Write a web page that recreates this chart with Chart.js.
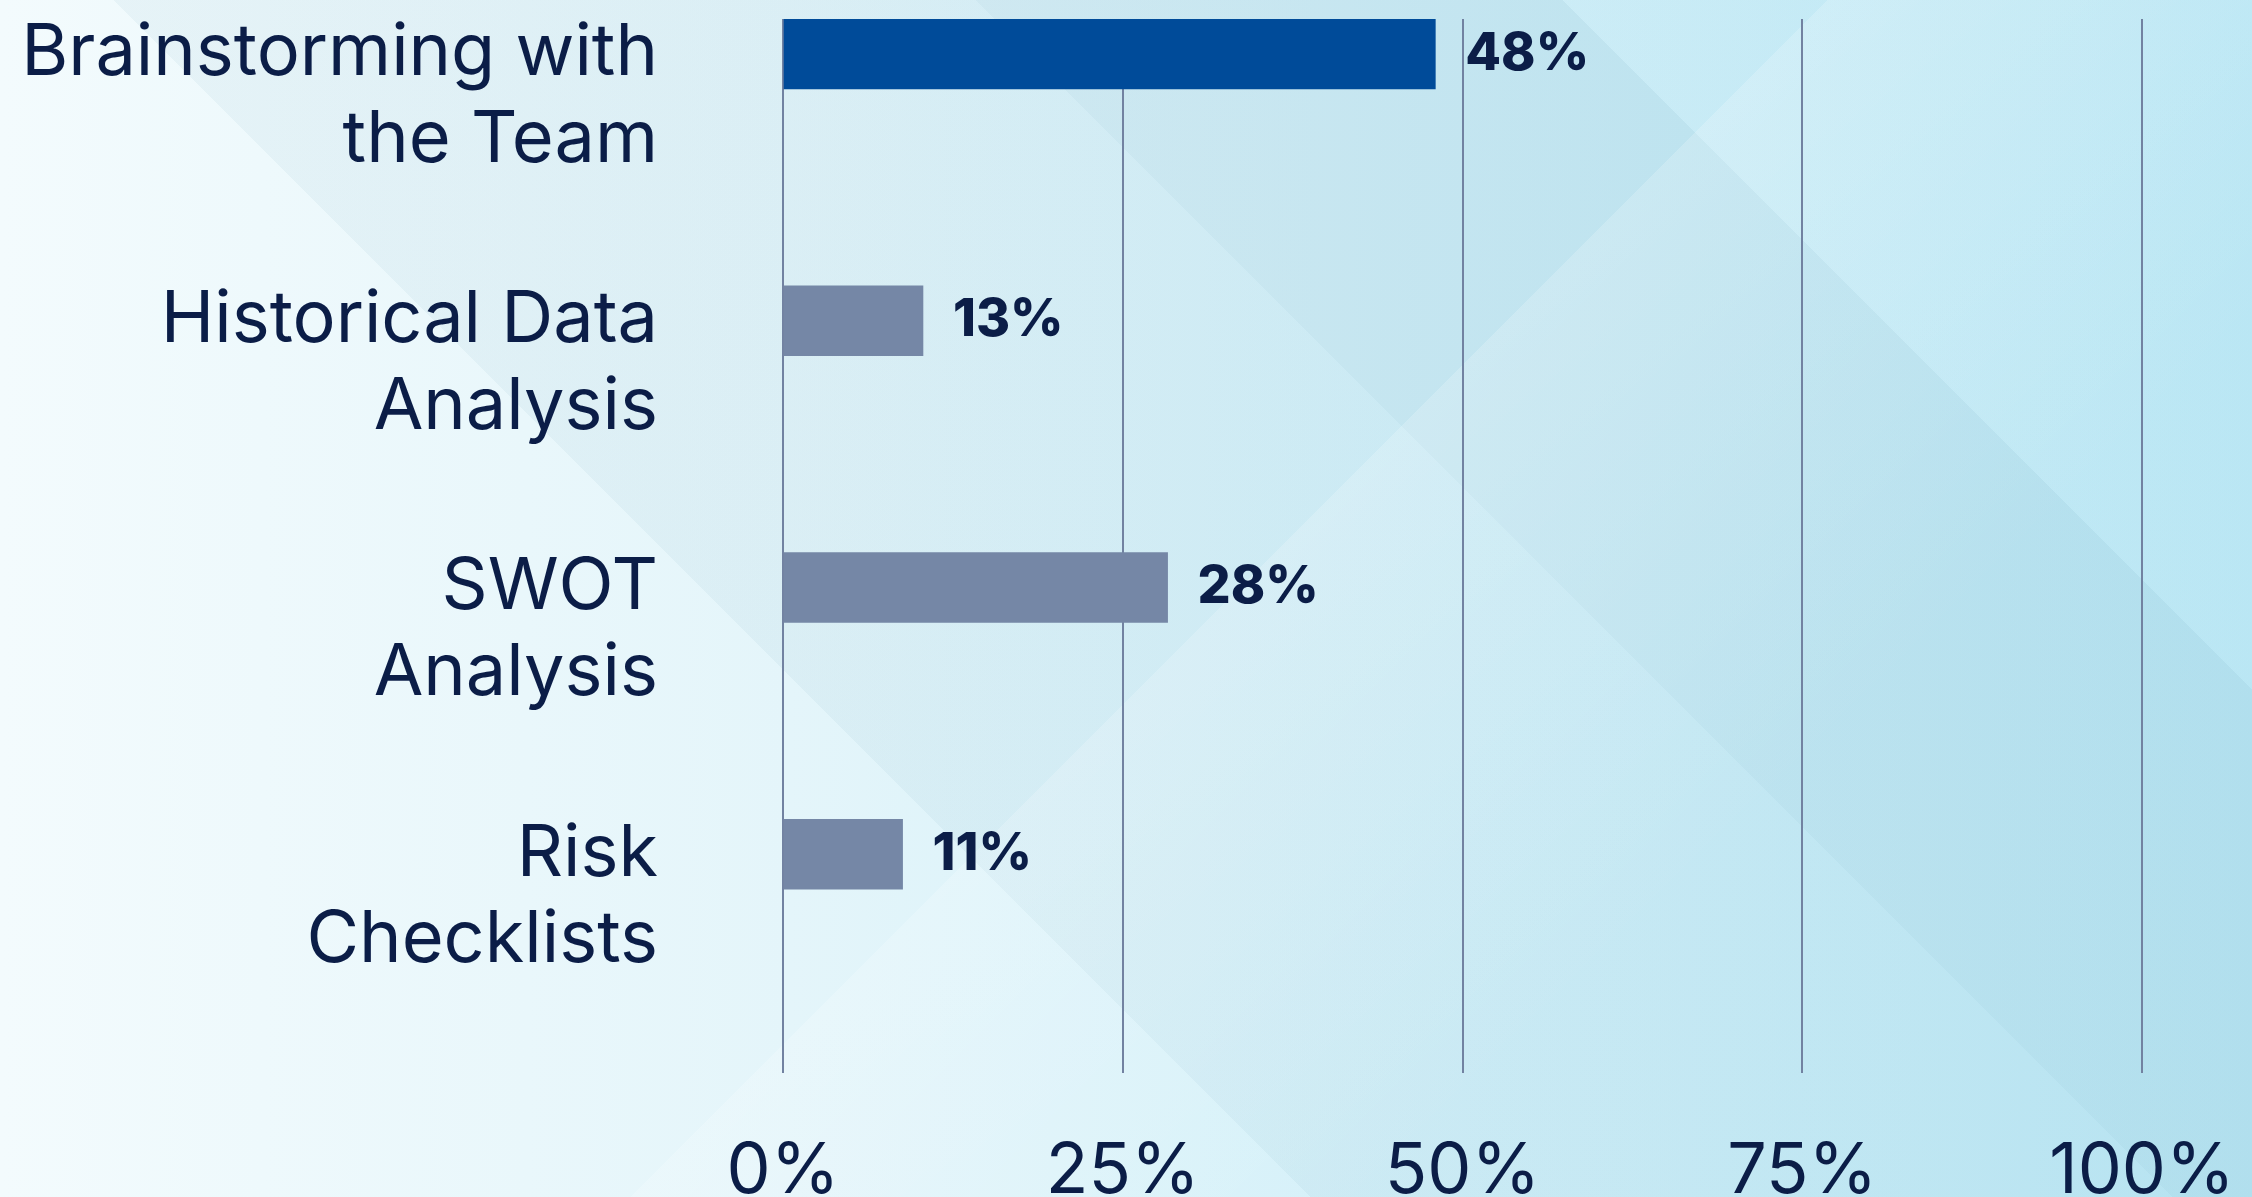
<!DOCTYPE html>
<html>
<head>
<meta charset="utf-8">
<script src="https://cdn.jsdelivr.net/npm/chart.js@4.4.0/dist/chart.umd.min.js"></script>
<style>
  html, body { margin: 0; padding: 0; }
  body {
    width: 2252px;
    height: 1197px;
    overflow: hidden;
    background:
      linear-gradient(135deg, rgba(255,255,255,0) 0%, rgba(255,255,255,0) 53%, rgba(255,255,255,0.18) 53%, rgba(255,255,255,0) 75%),
      linear-gradient(45deg, rgba(90,150,175,0) 0%, rgba(90,150,175,0) 38%, rgba(90,150,175,0.07) 38%, rgba(90,150,175,0.07) 63%, rgba(90,150,175,0.12) 63%, rgba(90,150,175,0.12) 80%, rgba(90,150,175,0.03) 80%),
      linear-gradient(90deg, #f3fbfd 0%, #e4f5fa 35%, #d2f0f9 65%, #bde9f6 100%);
  }
  #wrap { position: relative; width: 2252px; height: 1197px; }
</style>
</head>
<body>
<div id="wrap"><canvas id="chart"></canvas></div>
<script>
// categories (one entry per line of the label)
const categories = [
    ['Brainstorming with', 'the Team'],
    ['Historical Data', 'Analysis'],
    ['SWOT', 'Analysis'],
    ['Risk', 'Checklists']
];
// bar lengths as drawn in the picture
const barValues = [48, 10.3, 28.3, 8.8];
// printed value labels
const valueLabels = ['48%', '13%', '28%', '11%'];
const xTicks = [0, 25, 50, 75, 100];
const barColors = ['#004b99', '#7587a6', '#7587a6', '#7587a6'];

const ink = '#0b1d47';

// draw the value next to each bar
const valueLabelPlugin = {
    id: 'valueLabels',
    afterDatasetsDraw(chart) {
        const ctx = chart.ctx;
        const meta = chart.getDatasetMeta(0);
        ctx.save();
        ctx.font = '800 52px Inter';
        ctx.fillStyle = ink;
        ctx.textAlign = 'left';
        ctx.textBaseline = 'middle';
        meta.data.forEach((bar, i) => {
            ctx.fillText(valueLabels[i], bar.x + 30, bar.y);
        });
        ctx.restore();
    }
};

new Chart(document.getElementById('chart'), {
    type: 'bar',
    data: {
        datasets: [{
            data: barValues.map((v, i) => ({ x: v, y: i })),
            backgroundColor: barColors,
            barThickness: 70,
            borderWidth: 0
        }]
    },
    options: {
        indexAxis: 'y',
        responsive: true,
        maintainAspectRatio: false,
        animation: false,
        layout: { padding: { top: 19, right: 110, left: 0, bottom: 0 } },
        plugins: { legend: { display: false }, tooltip: { enabled: false } },
        scales: {
            x: {
                type: 'linear',
                position: 'bottom',
                min: 0,
                max: 100,
                afterBuildTicks: (scale) => { scale.ticks = xTicks.map(v => ({ value: v })); },
                afterFit: (scale) => { scale.height = 124; scale.paddingLeft = 0; scale.paddingRight = 0; },
                grid: { color: '#7282a1', lineWidth: 2, drawTicks: false },
                border: { display: false },
                ticks: {
                    color: ink,
                    font: { family: 'Inter', size: 70 },
                    padding: 57,
                    callback: (v) => v + '%'
                }
            },
            y: {
                type: 'linear',
                reverse: true,
                offset: false,
                min: -0.131,
                max: 3.82,
                afterBuildTicks: (scale) => { scale.ticks = categories.map((_, i) => ({ value: i })); },
                afterFit: (scale) => { scale.width = 783; scale.paddingTop = 0; scale.paddingBottom = 0; },
                grid: { display: false },
                border: { display: false },
                ticks: {
                    color: ink,
                    font: { family: 'Inter', size: 72, lineHeight: 1.2 },
                    padding: 117,
                    labelOffset: 43,
                    callback: (v) => categories[v]
                }
            }
        }
    },
    plugins: [valueLabelPlugin]
});
</script>
</body>
</html>
